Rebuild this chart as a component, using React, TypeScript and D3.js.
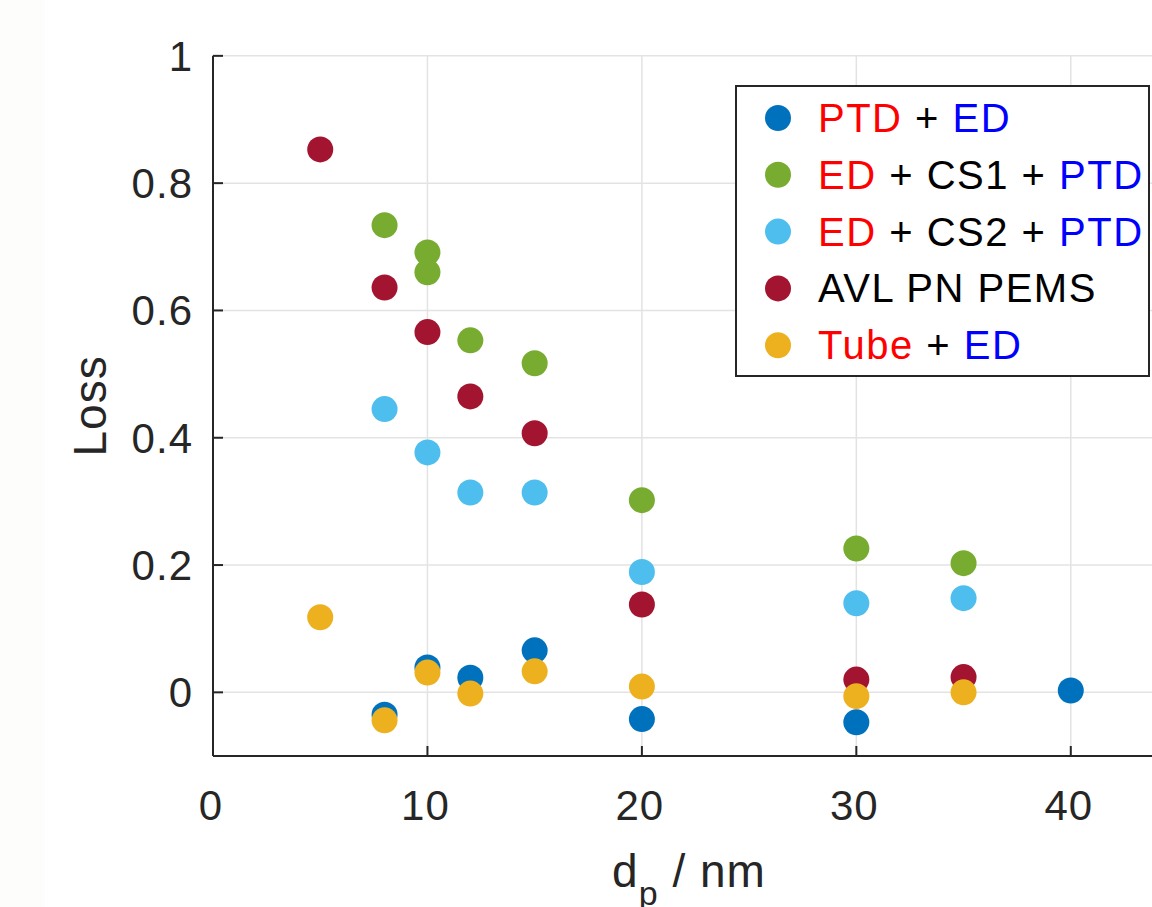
import React from 'react';
import * as d3 from 'd3';

// particle diameter (nm) per series
const xPtdEd = [8, 10, 12, 15, 20, 30, 40];
const yPtdEd = [-0.035, 0.039, 0.023, 0.066, -0.042, -0.047, 0.003];

const xCs1 = [8, 10, 10, 12, 15, 20, 30, 35];
const yCs1 = [0.734, 0.691, 0.66, 0.553, 0.517, 0.302, 0.226, 0.203];

const xCs2 = [8, 10, 12, 15, 20, 30, 35];
const yCs2 = [0.445, 0.377, 0.314, 0.314, 0.189, 0.14, 0.148];

const xPems = [5, 8, 10, 12, 15, 20, 30, 35];
const yPems = [0.853, 0.636, 0.566, 0.465, 0.407, 0.138, 0.02, 0.024];

const xTube = [5, 8, 10, 12, 15, 20, 30, 35];
const yTube = [0.118, -0.044, 0.031, -0.002, 0.033, 0.009, -0.006, 0.0];

const xTicks = [0, 10, 20, 30, 40];
const yTicks = [0, 0.2, 0.4, 0.6, 0.8, 1];

const RED = '#FF0000';
const BLUE = '#0000FF';
const BLACK = '#000000';

const series = [
  { xs: xPtdEd, ys: yPtdEd, color: '#0072BD', label: [['PTD', RED], [' + ', BLACK], ['ED', BLUE]] },
  { xs: xCs1, ys: yCs1, color: '#77AC30', label: [['ED', RED], [' + CS1 + ', BLACK], ['PTD', BLUE]] },
  { xs: xCs2, ys: yCs2, color: '#4DBEEE', label: [['ED', RED], [' + CS2 + ', BLACK], ['PTD', BLUE]] },
  { xs: xPems, ys: yPems, color: '#A2142F', label: [['AVL PN PEMS', BLACK]] },
  { xs: xTube, ys: yTube, color: '#EDB120', label: [['Tube', RED], [' + ', BLACK], ['ED', BLUE]] },
];

const W = 1152;
const H = 907;
const left = 213;
const bottom = 756;
const plotRight = 1178;

export default function App() {
  const x = d3.scaleLinear().domain([0, 45]).range([left, plotRight]);
  const y = d3.scaleLinear().domain([-0.1, 1]).range([bottom, bottom - 1.1 * 636.5]);
  const font = '"Liberation Sans", Arial, Helvetica, sans-serif';
  const axisColor = '#262626';

  return (
    <svg
      width={W}
      height={H}
      style={{ position: 'absolute', left: 0, top: 0, background: '#fff', fontFamily: font }}
    >
      <rect x={0} y={0} width={45} height={H} fill="#fdfdfb" />
      {/* grid */}
      {xTicks.slice(1).map(t => (
        <line key={'gx' + t} x1={x(t)} x2={x(t)} y1={y(1)} y2={bottom} stroke="#e3e3e3" strokeWidth={1.5} />
      ))}
      {yTicks.map(t => (
        <line key={'gy' + t} x1={left} x2={W} y1={y(t)} y2={y(t)} stroke="#e3e3e3" strokeWidth={1.5} />
      ))}

      {/* axes */}
      <line x1={left} x2={left} y1={y(1)} y2={bottom} stroke={axisColor} strokeWidth={2} />
      <line x1={left} x2={W} y1={bottom} y2={bottom} stroke={axisColor} strokeWidth={2} />
      {yTicks.map(t => (
        <g key={'ty' + t}>
          <line x1={left} x2={left + 10} y1={y(t)} y2={y(t)} stroke={axisColor} strokeWidth={2} />
          <text x={193} y={y(t) + 15} textAnchor="end" fontSize={42} letterSpacing={1} fill={axisColor}>
            {d3.format('~g')(t)}
          </text>
        </g>
      ))}
      {xTicks.map(t => (
        <g key={'tx' + t}>
          <line x1={x(t)} x2={x(t)} y1={bottom} y2={bottom - 10} stroke={axisColor} strokeWidth={2} />
          <text x={x(t) - 2} y={820} textAnchor="middle" fontSize={42} letterSpacing={1} fill={axisColor}>
            {t}
          </text>
        </g>
      ))}

      {/* axis labels */}
      <text
        transform={`translate(106, ${y(0.45)}) rotate(-90)`}
        textAnchor="middle"
        fontSize={46}
        letterSpacing={1}
        fill={axisColor}
      >
        Loss
      </text>
      <text x={689} y={887} textAnchor="middle" fontSize={46} letterSpacing={1} fill={axisColor}>
        d<tspan fontSize={34} dy={18}>p</tspan>
        <tspan dy={-18}> / nm</tspan>
      </text>

      {/* points */}
      {series.map((s, i) => (
        <g key={'s' + i}>
          {s.xs.map((v, j) => (
            <circle key={j} cx={x(v)} cy={y(s.ys[j])} r={13} fill={s.color} />
          ))}
        </g>
      ))}

      {/* legend */}
      <rect x={736} y={86} width={413} height={290} fill="#fff" stroke={axisColor} strokeWidth={2} />
      {series.map((s, i) => {
        const cy = 118 + i * 56.8;
        return (
          <g key={'l' + i}>
            <circle cx={778} cy={cy} r={13} fill={s.color} />
            <text x={818} y={cy + 14} fontSize={40} letterSpacing={1.5}>
              {s.label.map(([txt, c], k) => (
                <tspan key={k} fill={c} style={{ whiteSpace: 'pre' }}>
                  {txt}
                </tspan>
              ))}
            </text>
          </g>
        );
      })}
    </svg>
  );
}
